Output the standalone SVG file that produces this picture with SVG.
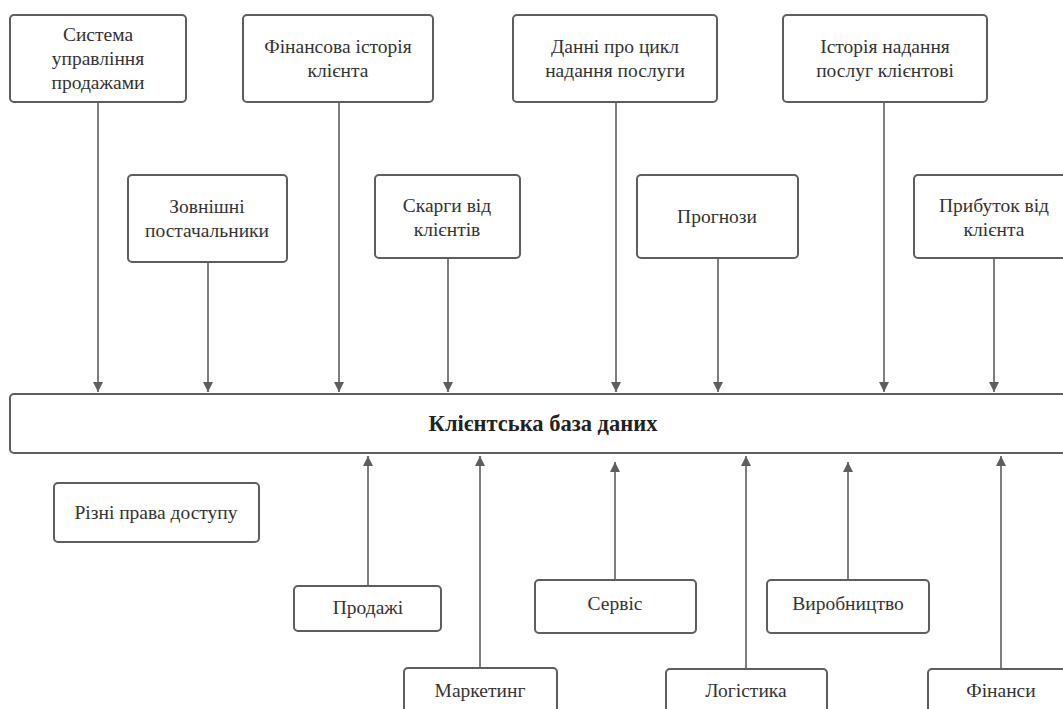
<svg xmlns="http://www.w3.org/2000/svg" width="1063" height="709" viewBox="0 0 1063 709">
  <defs>
    <marker id="arrow" viewBox="0 0 10 10" refX="10" refY="5" markerWidth="10" markerHeight="10" markerUnits="userSpaceOnUse" orient="auto">
      <path d="M0,0 L10,5 L0,10 Z" fill="#5e5e5e"/>
    </marker>
    <style>
      .box { fill: #ffffff; stroke: #5e5e5e; stroke-width: 2; }
      .lbl { font-family: "Liberation Serif", "DejaVu Serif", serif; font-size: 19.5px; fill: #333333; text-anchor: middle; }
      .title { font-family: "Liberation Serif", "DejaVu Serif", serif; font-size: 22.5px; font-weight: bold; fill: #222222; text-anchor: middle; }
      .edge { stroke: #5e5e5e; stroke-width: 1.6; fill: none; marker-end: url(#arrow); }
    </style>
  </defs>
  <rect width="1063" height="709" fill="#ffffff"/>

  <!-- connectors -->
  <g id="connectors">
    <!-- sources flowing down into the database -->
    <line class="edge" x1="98" y1="102" x2="98" y2="392"/>
    <line class="edge" x1="208" y1="262" x2="208" y2="392"/>
    <line class="edge" x1="339" y1="102" x2="339" y2="392"/>
    <line class="edge" x1="448" y1="258" x2="448" y2="392"/>
    <line class="edge" x1="616" y1="102" x2="616" y2="392"/>
    <line class="edge" x1="718" y1="258" x2="718" y2="392"/>
    <line class="edge" x1="884" y1="102" x2="884" y2="392"/>
    <line class="edge" x1="994" y1="258" x2="994" y2="392"/>
    <!-- departments reading from the database -->
    <line class="edge" x1="368" y1="586" x2="368" y2="456"/>
    <line class="edge" x1="480" y1="668" x2="480" y2="456"/>
    <line class="edge" x1="615" y1="580" x2="615" y2="462"/>
    <line class="edge" x1="746" y1="669" x2="746" y2="456"/>
    <line class="edge" x1="848" y1="580" x2="848" y2="462"/>
    <line class="edge" x1="1001" y1="669" x2="1001" y2="456"/>
  </g>

  <!-- top row -->
  <g id="sales-system">
    <rect class="box" x="10" y="15" width="176" height="87" rx="4"/>
    <text class="lbl" x="98" y="41">Система</text>
    <text class="lbl" x="98" y="65">управління</text>
    <text class="lbl" x="98" y="89">продажами</text>
  </g>
  <g id="financial-history">
    <rect class="box" x="243" y="15" width="190" height="87" rx="4"/>
    <text class="lbl" x="338" y="53">Фінансова історія</text>
    <text class="lbl" x="338" y="77">клієнта</text>
  </g>
  <g id="service-cycle">
    <rect class="box" x="513" y="15" width="204" height="87" rx="4"/>
    <text class="lbl" x="615" y="53">Данні про цикл</text>
    <text class="lbl" x="615" y="77">надання послуги</text>
  </g>
  <g id="service-history">
    <rect class="box" x="783" y="15" width="204" height="87" rx="4"/>
    <text class="lbl" x="885" y="53">Історія надання</text>
    <text class="lbl" x="885" y="77">послуг клієнтові</text>
  </g>

  <!-- second row -->
  <g id="suppliers">
    <rect class="box" x="128" y="175" width="159" height="87" rx="4"/>
    <text class="lbl" x="207" y="213">Зовнішні</text>
    <text class="lbl" x="207" y="237">постачальники</text>
  </g>
  <g id="complaints">
    <rect class="box" x="375" y="175" width="145" height="83" rx="4"/>
    <text class="lbl" x="447" y="212">Скарги від</text>
    <text class="lbl" x="447" y="236">клієнтів</text>
  </g>
  <g id="forecasts">
    <rect class="box" x="637" y="175" width="161" height="83" rx="4"/>
    <text class="lbl" x="717" y="223">Прогнози</text>
  </g>
  <g id="client-profit">
    <rect class="box" x="914" y="175" width="160" height="83" rx="4"/>
    <text class="lbl" x="994" y="212">Прибуток від</text>
    <text class="lbl" x="994" y="236">клієнта</text>
  </g>

  <!-- central database -->
  <g id="client-database">
    <rect class="box" x="10" y="394" width="1066" height="59" rx="4"/>
    <text class="title" x="543" y="431">Клієнтська база даних</text>
  </g>

  <!-- lower area -->
  <g id="access-rights">
    <rect class="box" x="54" y="483" width="205" height="59" rx="4"/>
    <text class="lbl" x="156" y="519">Різні права доступу</text>
  </g>
  <g id="sales">
    <rect class="box" x="294" y="586" width="147" height="45" rx="4"/>
    <text class="lbl" x="368" y="614">Продажі</text>
  </g>
  <g id="marketing">
    <rect class="box" x="404" y="668" width="153" height="50" rx="4"/>
    <text class="lbl" x="480" y="697">Маркетинг</text>
  </g>
  <g id="service">
    <rect class="box" x="535" y="580" width="161" height="53" rx="4"/>
    <text class="lbl" x="615" y="610">Сервіс</text>
  </g>
  <g id="logistics">
    <rect class="box" x="666" y="669" width="161" height="50" rx="4"/>
    <text class="lbl" x="746" y="697">Логістика</text>
  </g>
  <g id="production">
    <rect class="box" x="767" y="580" width="162" height="53" rx="4"/>
    <text class="lbl" x="848" y="610">Виробництво</text>
  </g>
  <g id="finance">
    <rect class="box" x="928" y="669" width="146" height="50" rx="4"/>
    <text class="lbl" x="1001" y="697">Фінанси</text>
  </g>
</svg>
